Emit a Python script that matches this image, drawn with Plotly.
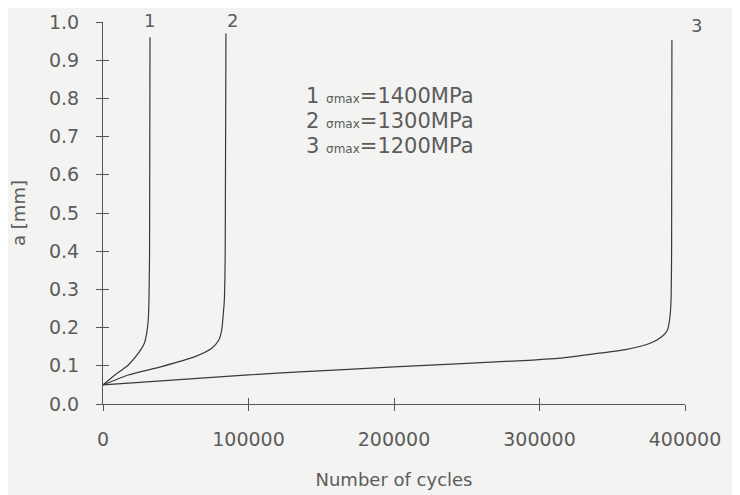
import plotly.graph_objects as go

# Data
cycles_1 = [0, 8200, 17400, 24300, 28400, 30000, 31100, 31600, 32000, 32300]
a_1 = [0.05, 0.076, 0.102, 0.133, 0.159, 0.185, 0.22, 0.272, 0.40, 0.96]
cycles_2 = [0, 17400, 40300, 63200, 74700, 79700, 81600, 82700, 83400, 84000, 84500]
a_2 = [0.05, 0.076, 0.098, 0.124, 0.146, 0.168, 0.194, 0.237, 0.272, 0.40, 0.97]
cycles_3 = [0, 100000, 135000, 200000, 295500, 314000, 337000, 360000, 376000,
            384000, 388000, 389700, 390400, 390800, 391000]
a_3 = [0.05, 0.076, 0.084, 0.097, 0.115, 0.12, 0.131, 0.143, 0.159,
       0.176, 0.194, 0.229, 0.272, 0.40, 0.953]
curve_labels = ["1", "2", "3"]
label_x = [32300, 88700, 408000]
label_y = [1.005, 1.005, 0.99]
legend_nums = ["1", "2", "3"]
legend_vals = ["1400MPa", "1300MPa", "1200MPa"]
x_ticks = [0, 100000, 200000, 300000, 400000]
y_ticks = [round(0.1 * i, 1) for i in range(11)]
X_MAX = 400000
Y_MAX = 1.0

FONT = "DejaVu Sans, Liberation Sans, Arial, sans-serif"
TXT = "#5c5c5c"
LINE = "#3a3a3a"
TICK = "#555555"
FS = 19

fig = go.Figure()
for xs, ys in [(cycles_1, a_1), (cycles_2, a_2), (cycles_3, a_3)]:
    fig.add_trace(go.Scatter(x=xs, y=ys, mode="lines",
                             line=dict(color=LINE, width=1.2, shape="spline",
                                       smoothing=0.6),
                             showlegend=False, hoverinfo="skip"))

# curve number labels near the tops (paper coords so they show outside range)
for lab, lx, ly in zip(curve_labels, label_x, label_y):
    fig.add_annotation(x=lx / X_MAX, y=ly / Y_MAX, xref="paper", yref="paper",
                       text=lab, showarrow=False, xanchor="center",
                       yanchor="middle",
                       font=dict(family=FONT, size=FS - 1, color=TXT))

# legend text block
for i, (num, val) in enumerate(zip(legend_nums, legend_vals)):
    txt = f"{num} <span style='font-size:12px'>σmax</span>={val}"
    fig.add_annotation(x=138000, y=0.806 - i * 0.0654, xref="x", yref="y",
                       text=txt, showarrow=False, xanchor="left",
                       yanchor="middle",
                       font=dict(family=FONT, size=21, color=TXT))

axis_common = dict(showgrid=False, zeroline=False, tickcolor=TICK,
                   tickwidth=1, automargin=False)

fig.update_layout(
    width=732, height=487,
    margin=dict(l=95, r=55, t=14, b=91),
    paper_bgcolor="#f3f3f1",
    plot_bgcolor="rgba(0,0,0,0)",
    font=dict(family=FONT, size=FS, color=TXT),
    xaxis=dict(range=[0, X_MAX], tickvals=x_ticks,
               ticktext=[str(v) for v in x_ticks],
               ticks="outside", ticklen=6, showline=True, linecolor=TICK,
               linewidth=1, ticklabelstandoff=12,
               title=dict(text="Number of cycles", standoff=24,
                          font=dict(size=FS - 1, color=TXT)),
               **axis_common),
    yaxis=dict(range=[0, Y_MAX], tickvals=y_ticks,
               ticktext=[f"{v:.1f}" for v in y_ticks],
               ticks="outside", ticklen=6, showline=True, linecolor=TICK,
               linewidth=1, ticklabelstandoff=13,
               title=dict(text="a [mm]", standoff=22,
                          font=dict(size=FS - 1, color=TXT)),
               **axis_common),
    xaxis2=dict(range=[0, X_MAX], overlaying="x", anchor="y", side="bottom",
                tickvals=x_ticks, ticks="inside", ticklen=6,
                showticklabels=False, **axis_common),
    yaxis2=dict(range=[0, Y_MAX], overlaying="y", anchor="x", side="left",
                tickvals=y_ticks, ticks="inside", ticklen=6,
                showticklabels=False, **axis_common),
)
# invisible trace to activate the overlay axes (crossing tick marks)
fig.add_trace(go.Scatter(x=[0], y=[0], xaxis="x2", yaxis="y2", mode="markers",
                         marker=dict(opacity=0), showlegend=False,
                         hoverinfo="skip"))

fig.write_html("out.html")
